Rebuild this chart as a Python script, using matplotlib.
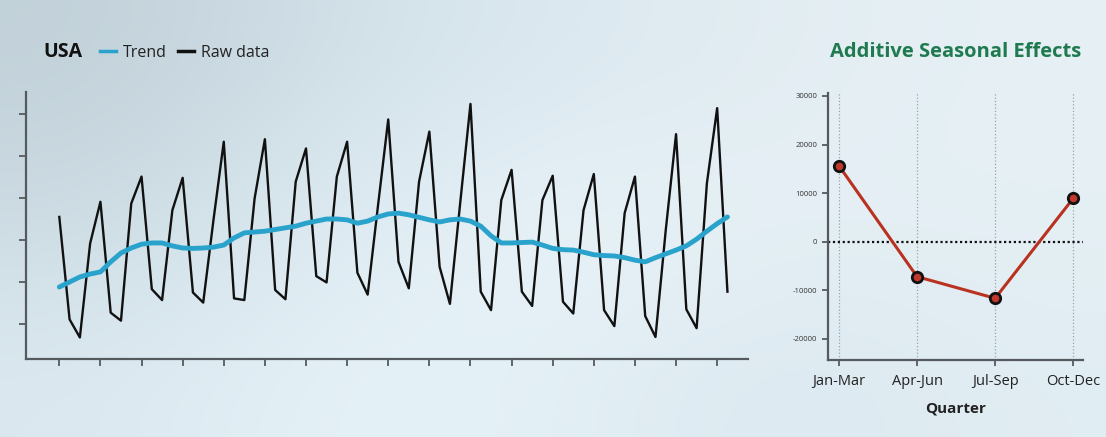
import numpy as np
import matplotlib
matplotlib.use("Agg")
import matplotlib.pyplot as plt
from matplotlib.lines import Line2D

plt.rcParams['font.family'] = ['Open Sans', 'DejaVu Sans']

# quarterly raw series (arbitrary units, axis is unlabeled)
raw_data = [35.5, 11.1, 6.8, 29.2,
            39.1, 12.7, 10.8, 38.7,
            45.1, 18.3, 15.7, 37.1,
            44.8, 17.5, 15.1, 34.8,
            53.4, 16.1, 15.7, 39.9,
            54.0, 18.1, 15.9, 43.9,
            51.8, 21.4, 19.9, 45.1,
            53.4, 22.2, 17.0, 38.1,
            58.7, 24.8, 18.5, 43.9,
            55.8, 23.6, 14.8, 38.8,
            62.4, 17.7, 13.3, 39.5,
            46.7, 17.7, 14.3, 39.5,
            45.3, 15.3, 12.5, 37.1,
            45.7, 13.3, 9.5, 36.4,
            45.1, 11.9, 6.9, 32.4,
            55.2, 13.5, 9.0, 43.5,
            61.4, 17.7]

trend = [18.8, 20.0, 21.2, 21.9,
         22.4, 24.8, 26.9, 28.1,
         29.0, 29.3, 29.3, 28.6,
         28.1, 28.0, 28.1, 28.3,
         28.8, 30.5, 31.7, 31.9,
         32.1, 32.5, 32.9, 33.3,
         34.0, 34.5, 35.0, 35.0,
         34.8, 34.0, 34.5, 35.5,
         36.2, 36.4, 36.0, 35.4,
         34.8, 34.3, 34.8, 35.0,
         34.5, 33.3, 31.0, 29.3,
         29.3, 29.4, 29.5, 28.8,
         28.0, 27.7, 27.6, 27.1,
         26.5, 26.3, 26.2, 25.8,
         25.2, 24.8, 25.8, 26.7,
         27.6, 28.6, 30.2, 32.1,
         33.9, 35.5]

quarters = ['Jan-Mar', 'Apr-Jun', 'Jul-Sep', 'Oct-Dec']
seasonal = [15600, -7200, -11650, 8900]
seasonal_ticks = [-20000, -10000, 0, 10000, 20000, 30000]

W, H = 1106, 437
fig = plt.figure(figsize=(W / 100, H / 100), dpi=100)

# soft blurred backdrop
bg = fig.add_axes([0, 0, 1, 1], zorder=-10)
bg_cols = np.array([
    [[0.76, 0.82, 0.85], [0.82, 0.88, 0.91], [0.86, 0.91, 0.94], [0.89, 0.93, 0.95], [0.90, 0.94, 0.96]],
    [[0.80, 0.86, 0.89], [0.87, 0.92, 0.95], [0.92, 0.96, 0.98], [0.90, 0.94, 0.96], [0.90, 0.94, 0.96]],
    [[0.86, 0.91, 0.94], [0.90, 0.95, 0.97], [0.89, 0.94, 0.96], [0.86, 0.91, 0.94], [0.88, 0.93, 0.95]],
])
bg.imshow(bg_cols, aspect='auto', interpolation='bicubic', extent=[0, 1, 0, 1])
bg.set_axis_off()

spine_col = '#555a5e'

# ---- left: raw data + trend
ax = fig.add_axes([26 / W, 1 - 359 / H, (748 - 26) / W, (359 - 92) / H])
ax.patch.set_alpha(0)
x = np.arange(len(raw_data))
ax.plot(x, raw_data, color='#111111', lw=1.7, zorder=2)
ax.plot(x, trend, color='#2aa3cc', lw=3.5, solid_capstyle='round', zorder=3)
ax.set_xlim(-3.24, 67.0)
ax.set_ylim(1.67, 65.24)
ax.set_xticks(x[::4])
ax.set_yticks([10, 20, 30, 40, 50, 60])
ax.set_xticklabels([])
ax.set_yticklabels([])
for s in ['top', 'right']:
    ax.spines[s].set_visible(False)
for s in ['left', 'bottom']:
    ax.spines[s].set_color(spine_col)
    ax.spines[s].set_linewidth(1.6)
ax.tick_params(length=5, width=1.3, color=spine_col)

fig.text(43 / W, 1 - 52 / H, 'USA', fontsize=14, fontweight='bold',
         color='#111111', ha='left', va='center')
handles = [Line2D([], [], color='#2aa3cc', lw=2.5),
           Line2D([], [], color='#111111', lw=2.5)]
fig.legend(handles, ['Trend', 'Raw data'], loc='center left',
           bbox_to_anchor=(100 / W, 1 - 53 / H), ncol=2, frameon=False,
           fontsize=11.5, handlelength=1.0, handletextpad=0.45,
           columnspacing=0.7, borderpad=0, borderaxespad=0,
           labelcolor='#222222')

# ---- right: seasonal effects
ax2 = fig.add_axes([827.7 / W, 1 - 360 / H, (1083.3 - 827.7) / W, (360 - 93) / H])
ax2.patch.set_alpha(0)
qx = np.arange(len(quarters))
ax2.grid(axis='x', linestyle=':', color='#9aa4a8', lw=0.9)
ax2.axhline(0, color='#111111', ls=(0, (1, 1.2)), lw=1.6, zorder=2)
ax2.plot(qx, seasonal, color='#b8321f', lw=2.2, marker='o', ms=7.5,
         mfc='#c0392b', mec='#111111', mew=2, zorder=3)
ax2.set_xlim(-0.145, 3.13)
ax2.set_ylim(-24350, 30600)
ax2.set_xticks(qx)
ax2.set_xticklabels(quarters, fontsize=10.5, color='#222222')
ax2.set_yticks(seasonal_ticks)
ax2.set_yticklabels([str(t) for t in seasonal_ticks], fontsize=5.5, color='#333333')
ax2.set_xlabel('Quarter', fontsize=11, fontweight='bold', color='#222222', labelpad=9)
ax2.set_axisbelow(True)
for s in ['top', 'right']:
    ax2.spines[s].set_visible(False)
for s in ['left', 'bottom']:
    ax2.spines[s].set_color(spine_col)
    ax2.spines[s].set_linewidth(1.6)
ax2.tick_params(length=4, width=1.3, color=spine_col)
ax2.tick_params(axis='x', pad=6)

fig.text(956 / W, 1 - 52 / H, 'Additive Seasonal Effects', fontsize=14.5,
         fontweight='bold', color='#1f7a50', ha='center', va='center')

fig.savefig('out.png', dpi=100)
plt.close(fig)
